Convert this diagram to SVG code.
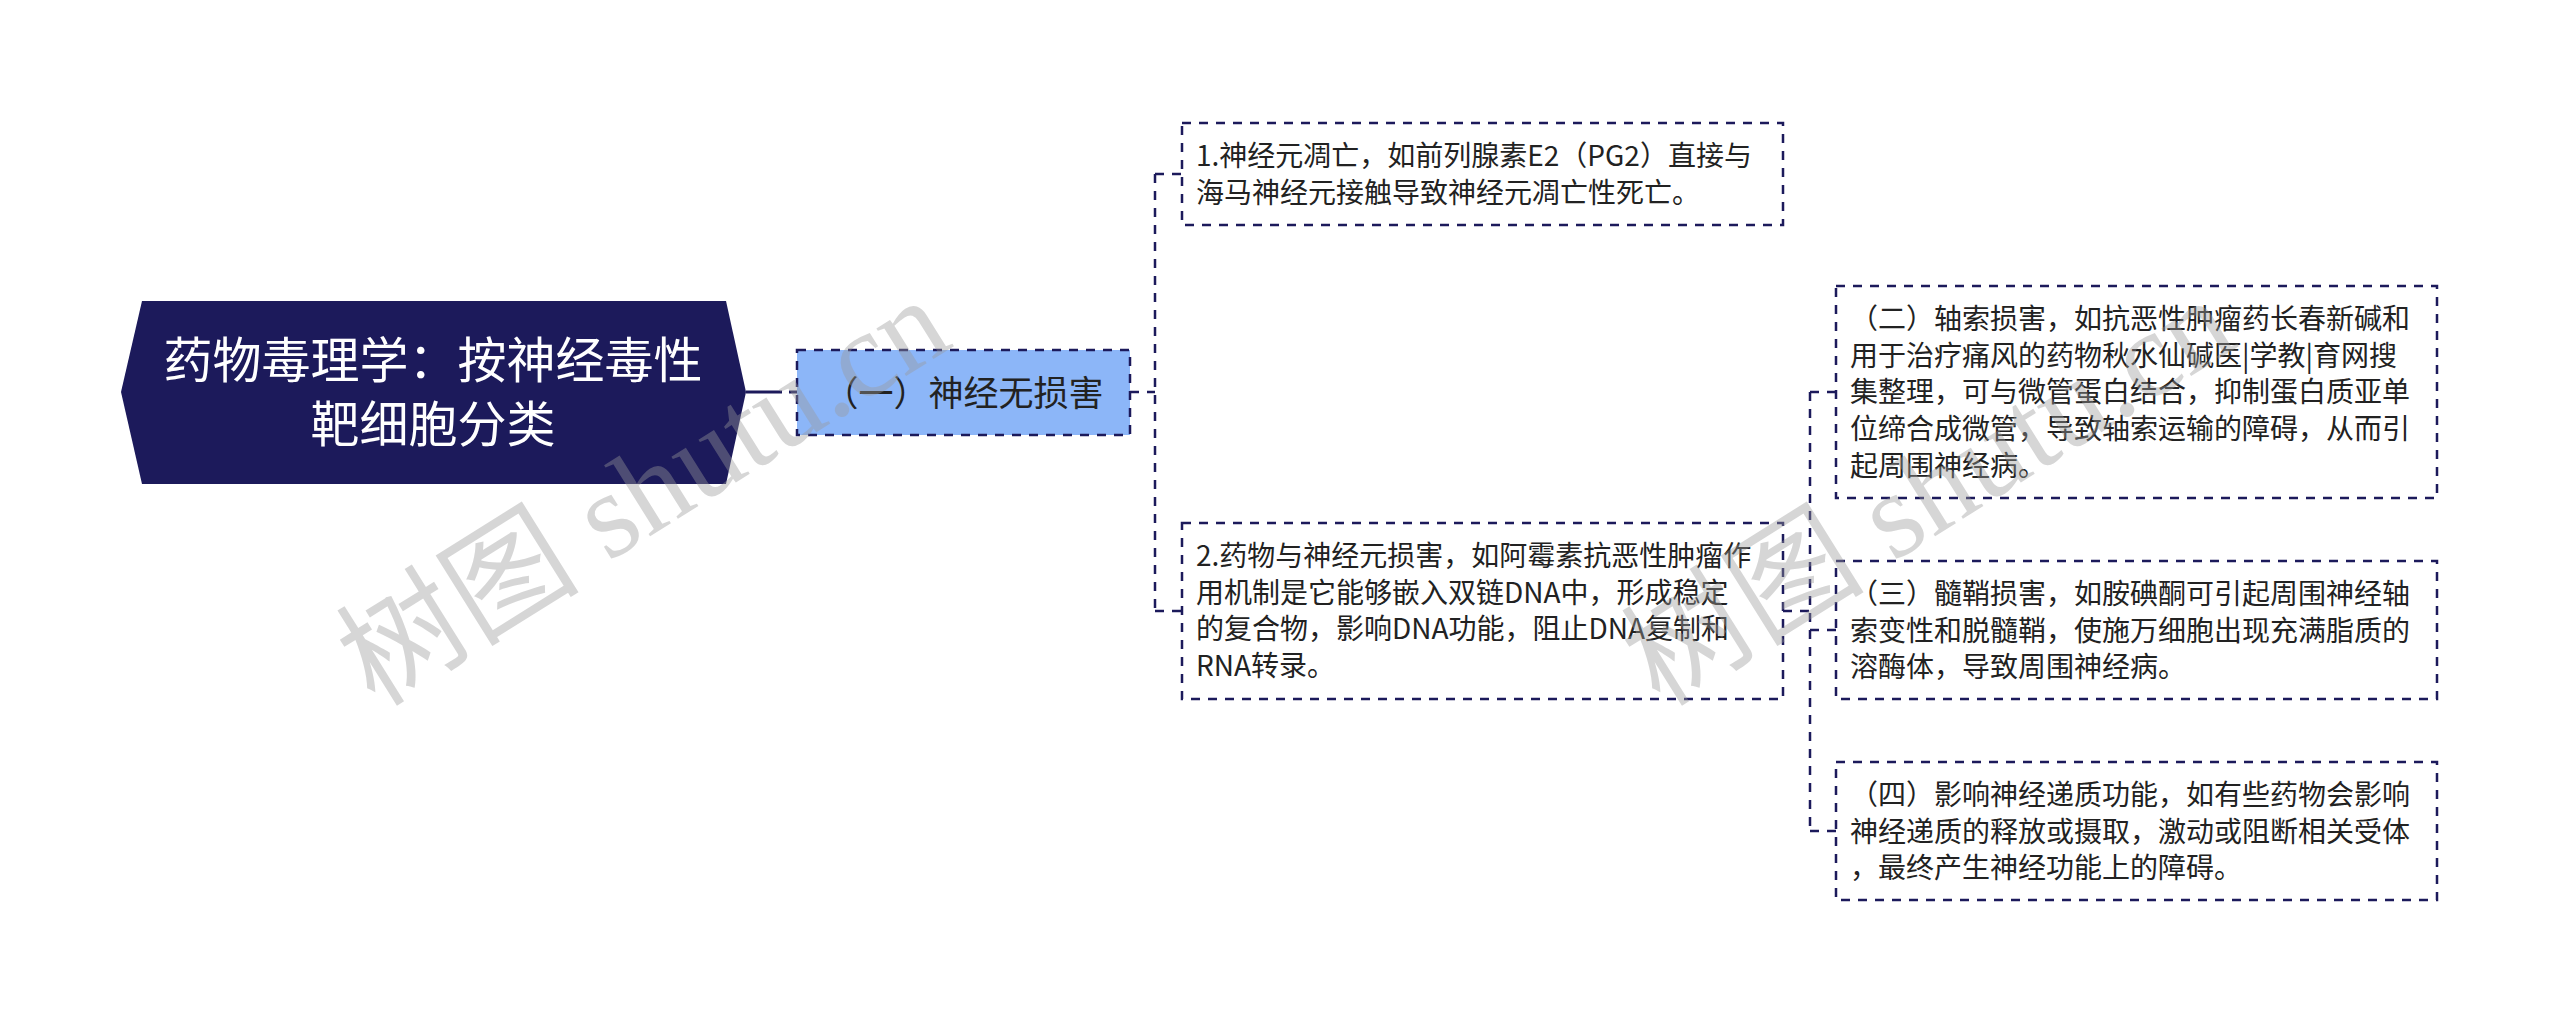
<svg xmlns="http://www.w3.org/2000/svg" width="2560" height="1023" viewBox="0 0 2560 1023">
<style>
.box{fill:#ffffff;stroke:#1c1a5b;stroke-width:2.5;stroke-dasharray:9 8}
.t{font-family:"Noto Sans CJK SC","Noto Sans",sans-serif;font-size:28px;fill:#222222}
.conn{fill:none;stroke:#1c1a5b;stroke-width:2.5;stroke-dasharray:9 8}
.wm{font-family:"Liberation Serif","Noto Sans CJK SC",serif;font-size:122px;fill:#9a9a9a;opacity:0.4}
</style>
<rect width="2560" height="1023" fill="#ffffff"/>
<g id="connectors">
<line x1="746" y1="392" x2="782" y2="392" stroke="#1c1a5b" stroke-width="3"/>
<line x1="789" y1="392" x2="797" y2="392" stroke="#1c1a5b" stroke-width="3"/>
<path class="conn" d="M1130 392 H1155"/>
<path class="conn" d="M1155 174 V611"/>
<path class="conn" d="M1155 174 H1182"/>
<path class="conn" d="M1155 611 H1182"/>
<path class="conn" d="M1783 611 H1810"/>
<path class="conn" d="M1810 392 V831"/>
<path class="conn" d="M1810 392 H1836"/>
<path class="conn" d="M1810 630 H1836"/>
<path class="conn" d="M1810 831 H1836"/>
</g>
<g id="root">
<polygon points="142,301 726,301 746,392 726,484 142,484 121,392" fill="#1c1a5b"/>
<text x="433" y="378" text-anchor="middle" font-family="Noto Sans CJK SC, sans-serif" font-size="49" fill="#ffffff">药物毒理学：按神经毒性</text>
<text x="433" y="442" text-anchor="middle" font-family="Noto Sans CJK SC, sans-serif" font-size="49" fill="#ffffff">靶细胞分类</text>
</g>
<g id="n1">
<rect x="797" y="350" width="333" height="85" fill="#8cb6f8" stroke="#1c1a5b" stroke-width="2.5" stroke-dasharray="9 8"/>
<text x="963.5" y="405.5" text-anchor="middle" font-family="Noto Sans CJK SC, sans-serif" font-size="35" fill="#222222">（一）神经无损害</text>
</g>
<g id="n1a">
<rect class="box" x="1182" y="123" width="601" height="102"/>
<text class="t" x="1196" y="166">1.神经元凋亡，如前列腺素E2（PG2）直接与</text>
<text class="t" x="1196" y="202.7">海马神经元接触导致神经元凋亡性死亡。</text>
</g>
<g id="n1b">
<rect class="box" x="1182" y="523" width="601" height="176"/>
<text class="t" x="1196" y="566">2.药物与神经元损害，如阿霉素抗恶性肿瘤作</text>
<text class="t" x="1196" y="602.7">用机制是它能够嵌入双链DNA中，形成稳定</text>
<text class="t" x="1196" y="639.4">的复合物，影响DNA功能，阻止DNA复制和</text>
<text class="t" x="1196" y="676.1">RNA转录。</text>
</g>
<g id="n2">
<rect class="box" x="1836" y="286" width="601" height="212"/>
<text class="t" x="1850" y="329">（二）轴索损害，如抗恶性肿瘤药长春新碱和</text>
<text class="t" x="1850" y="365.7">用于治疗痛风的药物秋水仙碱医|学教|育网搜</text>
<text class="t" x="1850" y="402.4">集整理，可与微管蛋白结合，抑制蛋白质亚单</text>
<text class="t" x="1850" y="439.1">位缔合成微管，导致轴索运输的障碍，从而引</text>
<text class="t" x="1850" y="475.8">起周围神经病。</text>
</g>
<g id="n3">
<rect class="box" x="1836" y="561" width="601" height="138"/>
<text class="t" x="1850" y="604">（三）髓鞘损害，如胺碘酮可引起周围神经轴</text>
<text class="t" x="1850" y="640.7">索变性和脱髓鞘，使施万细胞出现充满脂质的</text>
<text class="t" x="1850" y="677.4">溶酶体，导致周围神经病。</text>
</g>
<g id="n4">
<rect class="box" x="1836" y="762" width="601" height="138"/>
<text class="t" x="1850" y="805">（四）影响神经递质功能，如有些药物会影响</text>
<text class="t" x="1850" y="841.7">神经递质的释放或摄取，激动或阻断相关受体</text>
<text class="t" x="1850" y="878.4">，最终产生神经功能上的障碍。</text>
</g>
<g id="watermark">
<text class="wm" transform="translate(375,708) rotate(-32)">树图 shutu.cn</text>
<text class="wm" transform="translate(1660,708) rotate(-32)">树图 shutu.cn</text>
</g>
</svg>
